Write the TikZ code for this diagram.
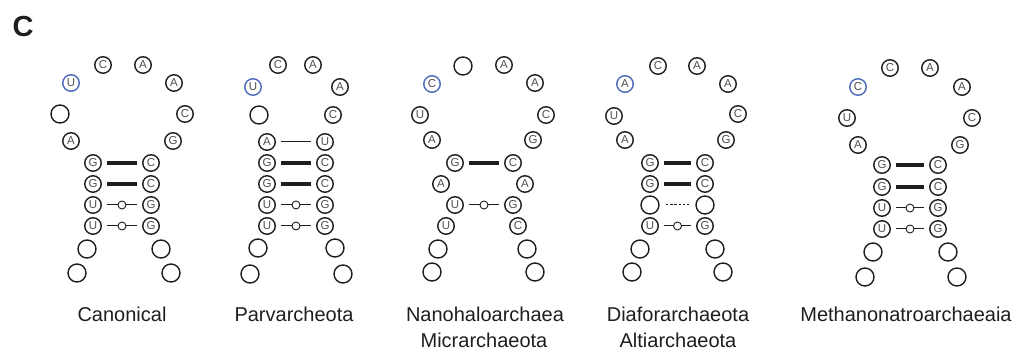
\documentclass[tikz,border=0pt]{standalone}
\usepackage{fontspec}
\setmainfont{Liberation Sans}
\definecolor{ringblue}{HTML}{4A6CB8}
\definecolor{ltr}{HTML}{505050}
\definecolor{ink}{HTML}{1E1E1E}
\tikzset{
 nt/.style={circle, draw=ink, line width=1.4pt, minimum size=16.5pt, inner sep=0pt, text=ltr, font=\fontsize{11.5}{11.5}\selectfont},
 ntb/.style={nt, draw=ringblue},
 ne/.style={nt, minimum size=18pt},
 wc/.style={draw=ink, line width=4pt, shorten <=5pt, shorten >=5pt},
 thin/.style={draw=ink, line width=1pt, shorten <=5pt, shorten >=5pt},
 dsh/.style={draw=ink, line width=1pt, dash pattern=on 2.5pt off 1.8pt, shorten <=6pt, shorten >=6pt},
 guo/.style={circle, draw=ink, line width=0.9pt, fill=white, minimum size=8pt, inner sep=0pt},
 lbl/.style={anchor=base, inner sep=0pt, font=\fontsize{20}{24}\selectfont, text=ink},
}
\begin{document}
\begin{tikzpicture}[x=1pt,y=-1pt]
\useasboundingbox (0,0) rectangle (1021,352);
\node[anchor=base, inner sep=0pt, font=\fontsize{29}{30}\selectfont\bfseries, text=ink] (panel) at (23,37) {C};

% ---------- Canonical ----------
\node[nt]  (a1) at (103,65) {C};
\node[nt]  (a2) at (143,65) {A};
\node[ntb] (a3) at (71,83) {U};
\node[nt]  (a4) at (174,83) {A};
\node[ne]  (a5) at (60,114) {};
\node[nt]  (a6) at (185,114) {C};
\node[nt]  (a7) at (71,141) {A};
\node[nt]  (a8) at (173,141) {G};
\node[nt] (aL1) at (93,163) {G};  \node[nt] (aR1) at (151,163) {C};
\node[nt] (aL2) at (93,184) {G};  \node[nt] (aR2) at (151,184) {C};
\node[nt] (aL3) at (93,205) {U};  \node[nt] (aR3) at (151,205) {G};
\node[nt] (aL4) at (93,226) {U};  \node[nt] (aR4) at (151,226) {G};
\node[ne] (ab1) at (87,249) {};  \node[ne] (ab2) at (161,249) {};
\node[ne] (ab3) at (77,273) {};  \node[ne] (ab4) at (171,273) {};
\draw[wc] (aL1) -- (aR1);
\draw[wc] (aL2) -- (aR2);
\draw[thin] (aL3) -- node[guo] (ag1) {} (aR3);
\draw[thin] (aL4) -- node[guo] (ag2) {} (aR4);
\node[lbl] (la) at (122,322) {Canonical};

% ---------- Parvarcheota ----------
\node[nt]  (b1) at (278,65) {C};
\node[nt]  (b2) at (313,65) {A};
\node[ntb] (b3) at (253,87) {U};
\node[nt]  (b4) at (340,87) {A};
\node[ne]  (b5) at (259,115) {};
\node[nt]  (b6) at (333,115) {C};
\node[nt] (bL0) at (267,142) {A};  \node[nt] (bR0) at (325,142) {U};
\node[nt] (bL1) at (267,163) {G};  \node[nt] (bR1) at (325,163) {C};
\node[nt] (bL2) at (267,184) {G};  \node[nt] (bR2) at (325,184) {C};
\node[nt] (bL3) at (267,205) {U};  \node[nt] (bR3) at (325,205) {G};
\node[nt] (bL4) at (267,226) {U};  \node[nt] (bR4) at (325,226) {G};
\node[ne] (bb1) at (258,248) {};  \node[ne] (bb2) at (335,248) {};
\node[ne] (bb3) at (250,274) {};  \node[ne] (bb4) at (343,274) {};
\draw[thin] (bL0) -- (bR0);
\draw[wc] (bL1) -- (bR1);
\draw[wc] (bL2) -- (bR2);
\draw[thin] (bL3) -- node[guo] (bg1) {} (bR3);
\draw[thin] (bL4) -- node[guo] (bg2) {} (bR4);
\node[lbl] (lb) at (294,322) {Parvarcheota};

% ---------- Nanohaloarchaea / Micrarchaeota ----------
\node[ne]  (c1) at (463,66) {};
\node[nt]  (c2) at (504,65) {A};
\node[ntb] (c3) at (432,84) {C};
\node[nt]  (c4) at (535,83) {A};
\node[nt]  (c5) at (420,115) {U};
\node[nt]  (c6) at (546,115) {C};
\node[nt]  (c7) at (432,140) {A};
\node[nt]  (c8) at (533,140) {G};
\node[nt] (cL1) at (455,163) {G};  \node[nt] (cR1) at (513,163) {C};
\node[nt] (cL2) at (441,184) {A};  \node[nt] (cR2) at (525,184) {A};
\node[nt] (cL3) at (455,205) {U};  \node[nt] (cR3) at (513,205) {G};
\node[nt] (cL4) at (446,226) {U};  \node[nt] (cR4) at (518,226) {C};
\node[ne] (cb1) at (438,249) {};  \node[ne] (cb2) at (527,249) {};
\node[ne] (cb3) at (432,272) {};  \node[ne] (cb4) at (535,272) {};
\draw[wc] (cL1) -- (cR1);
\draw[thin] (cL3) -- node[guo] (cg1) {} (cR3);
\node[lbl] (lc1) at (485,322) {Nanohaloarchaea};
\node[lbl] (lc2) at (484,348) {Micrarchaeota};

% ---------- Diaforarchaeota / Altiarchaeota ----------
\node[nt]  (d1) at (658,66) {C};
\node[nt]  (d2) at (697,66) {A};
\node[ntb] (d3) at (625,84) {A};
\node[nt]  (d4) at (728,84) {A};
\node[nt]  (d5) at (614,116) {U};
\node[nt]  (d6) at (738,114) {C};
\node[nt]  (d7) at (625,140) {A};
\node[nt]  (d8) at (726,140) {G};
\node[nt] (dL1) at (650,163) {G};  \node[nt] (dR1) at (705,163) {C};
\node[nt] (dL2) at (650,184) {G};  \node[nt] (dR2) at (705,184) {C};
\node[ne] (dL3) at (650,205) {};   \node[ne] (dR3) at (705,205) {};
\node[nt] (dL4) at (650,226) {U};  \node[nt] (dR4) at (705,226) {G};
\node[ne] (db1) at (640,249) {};  \node[ne] (db2) at (715,249) {};
\node[ne] (db3) at (632,272) {};  \node[ne] (db4) at (723,272) {};
\draw[wc] (dL1) -- (dR1);
\draw[wc] (dL2) -- (dR2);
\draw[dsh] (dL3) -- (dR3);
\draw[thin] (dL4) -- node[guo] (dg1) {} (dR4);
\node[lbl] (ld1) at (678,322) {Diaforarchaeota};
\node[lbl] (ld2) at (678,348) {Altiarchaeota};

% ---------- Methanonatroarchaeaia ----------
\node[nt]  (e1) at (890,68) {C};
\node[nt]  (e2) at (930,68) {A};
\node[ntb] (e3) at (858,87) {C};
\node[nt]  (e4) at (962,87) {A};
\node[nt]  (e5) at (847,118) {U};
\node[nt]  (e6) at (972,118) {C};
\node[nt]  (e7) at (858,145) {A};
\node[nt]  (e8) at (960,145) {G};
\node[nt] (eL1) at (882,165) {G};  \node[nt] (eR1) at (938,165) {C};
\node[nt] (eL2) at (882,187) {G};  \node[nt] (eR2) at (938,187) {C};
\node[nt] (eL3) at (882,208) {U};  \node[nt] (eR3) at (938,208) {G};
\node[nt] (eL4) at (882,229) {U};  \node[nt] (eR4) at (938,229) {G};
\node[ne] (eb1) at (873,252) {};  \node[ne] (eb2) at (948,252) {};
\node[ne] (eb3) at (865,277) {};  \node[ne] (eb4) at (957,277) {};
\draw[wc] (eL1) -- (eR1);
\draw[wc] (eL2) -- (eR2);
\draw[thin] (eL3) -- node[guo] (eg1) {} (eR3);
\draw[thin] (eL4) -- node[guo] (eg2) {} (eR4);
\node[lbl] (le) at (906,322) {Methanonatroarchaeaia};
\end{tikzpicture}
\end{document}
